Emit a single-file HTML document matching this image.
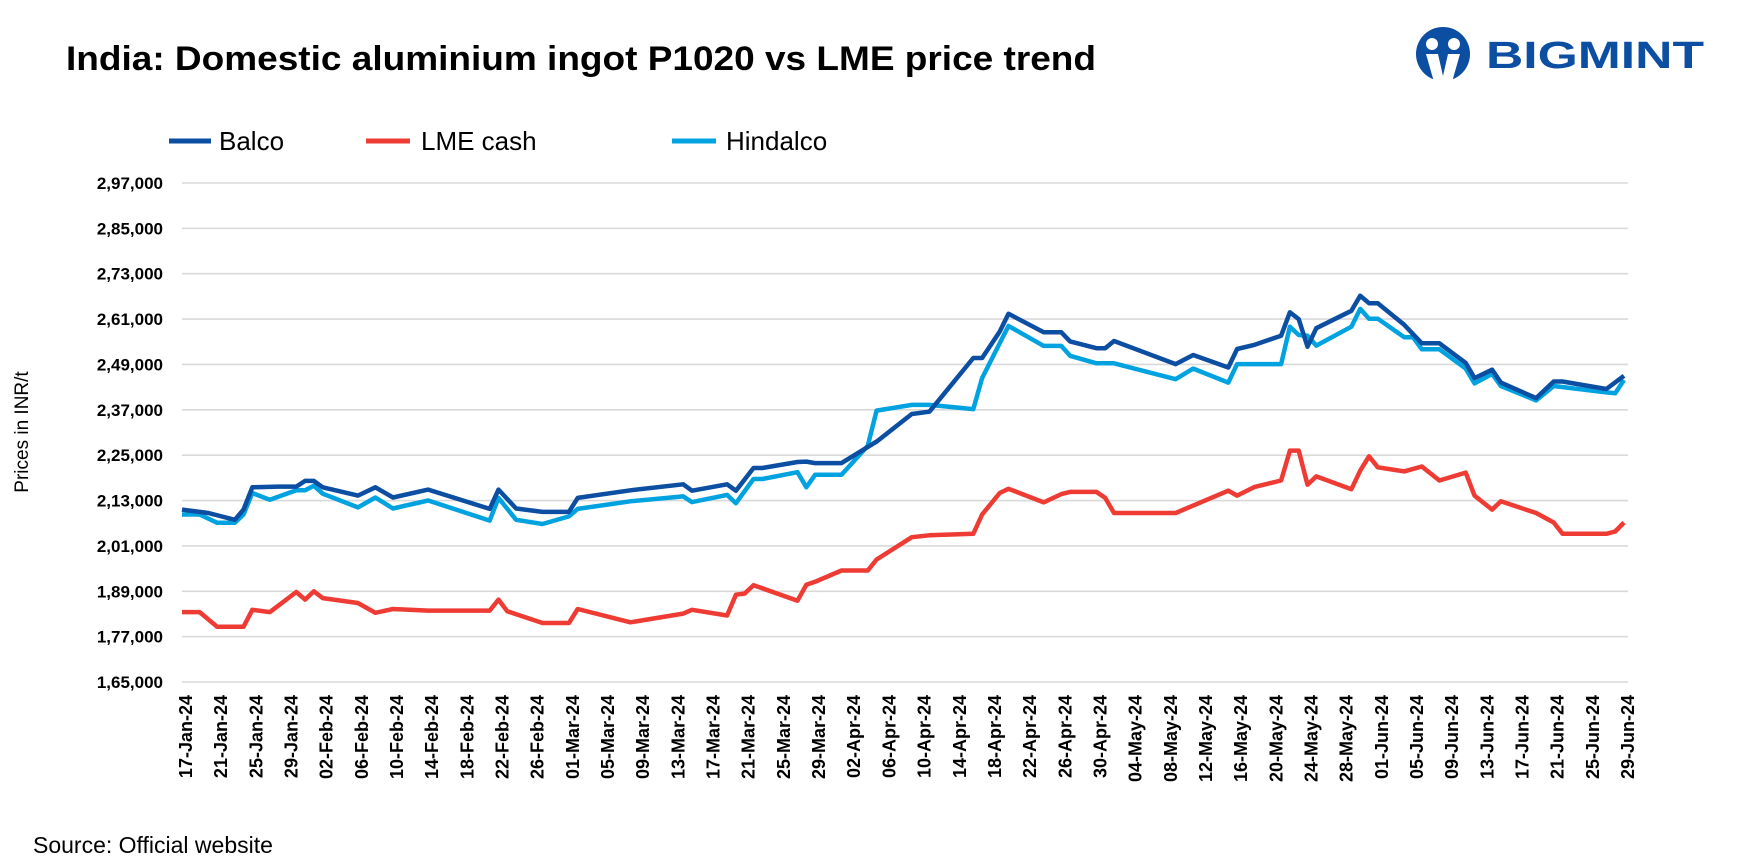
<!DOCTYPE html>
<html>
<head>
<meta charset="utf-8">
<style>
  html,body{margin:0;padding:0;background:#fff;}
  body{width:1739px;height:863px;overflow:hidden;font-family:"Liberation Sans",sans-serif;}
  svg{display:block;}
</style>
</head>
<body>
<svg id="chart" width="1739" height="863" viewBox="0 0 1739 863" xmlns="http://www.w3.org/2000/svg">
  <text x="66" y="70" font-family="Liberation Sans, sans-serif" font-weight="bold" font-size="34" fill="#000" textLength="1030" lengthAdjust="spacingAndGlyphs">India: Domestic aluminium ingot P1020 vs LME price trend</text>
  <g>
    <circle cx="1443" cy="54" r="27" fill="#0b4ea2"/>
    <circle cx="1432" cy="44" r="6" fill="#fff"/>
    <circle cx="1454" cy="44" r="6" fill="#fff"/>
    <path d="M1426 54 L1438 54 L1443 76 L1448 54 L1460 54 L1452 82 L1434 82 Z" fill="#fff"/>
    <text x="1486" y="68" font-family="Liberation Sans, sans-serif" font-weight="bold" font-size="38" fill="#0b4ea2" textLength="218" lengthAdjust="spacingAndGlyphs">BIGMINT</text>
  </g>
  <g>
    <g>
      <line x1="169" y1="141" x2="211" y2="141" stroke="#0b4ea2" stroke-width="5"/>
      <text x="219" y="150" font-size="26" fill="#000">Balco</text>
    </g>
    <g>
      <line x1="366" y1="141" x2="410" y2="141" stroke="#ee3b33" stroke-width="5"/>
      <text x="421" y="150" font-size="26" fill="#000">LME cash</text>
    </g>
    <g>
      <line x1="672" y1="141" x2="716" y2="141" stroke="#00a3e0" stroke-width="5"/>
      <text x="726" y="150" font-size="26" fill="#000">Hindalco</text>
    </g>
  </g>
  <text transform="translate(28,432) rotate(-90)" text-anchor="middle" font-size="19" fill="#000">Prices in INR/t</text>
  <g id="grid"></g>
  <g id="yticks"></g>
  <g id="xticks"></g>
  <g id="series"></g>
  <text x="33" y="853" font-size="23" fill="#000">Source: Official website</text>
</svg>
<script>
// y-axis ticks (INR/t)
const yTicks = [165000,177000,189000,201000,213000,225000,237000,249000,261000,273000,285000,297000];
const yTickLabels = ["1,65,000","1,77,000","1,89,000","2,01,000","2,13,000","2,25,000","2,37,000","2,49,000","2,61,000","2,73,000","2,85,000","2,97,000"];
// x-axis: day offsets from 17-Jan-24
const xTickDays = [0,4,8,12,16,20,24,28,32,36,40,44,48,52,56,60,64,68,72,76,80,84,88,92,96,100,104,108,112,116,120,124,128,132,136,140,144,148,152,156,160,164];
const xTickLabels = ["17-Jan-24","21-Jan-24","25-Jan-24","29-Jan-24","02-Feb-24","06-Feb-24","10-Feb-24","14-Feb-24","18-Feb-24","22-Feb-24","26-Feb-24","01-Mar-24","05-Mar-24","09-Mar-24","13-Mar-24","17-Mar-24","21-Mar-24","25-Mar-24","29-Mar-24","02-Apr-24","06-Apr-24","10-Apr-24","14-Apr-24","18-Apr-24","22-Apr-24","26-Apr-24","30-Apr-24","04-May-24","08-May-24","12-May-24","16-May-24","20-May-24","24-May-24","28-May-24","01-Jun-24","05-Jun-24","09-Jun-24","13-Jun-24","17-Jun-24","21-Jun-24","25-Jun-24","29-Jun-24"];

// Balco (day offset, thousand INR/t)
const balcoDays = [0,3,6,7,8,11,13,14,15,16,20,22,24,28,35,36,38,41,44,45,51,57,58,62,63,65,66,70,71,72,75,79,83,85,90,91,93,94,98,100,101,104,105,106,113,115,119,120,122,125,126,127,128,129,133,134,135,136,139,141,143,146,147,149,150,154,156,157,162,164];
const balcoVals = [210.6,209.7,207.9,210.6,216.5,216.7,216.7,218.2,218.2,216.5,214.3,216.5,213.8,215.9,210.8,215.9,210.9,210.0,210.0,213.7,215.7,217.3,215.6,217.3,215.6,221.6,221.6,223.2,223.3,222.9,222.9,228.6,235.9,236.5,250.7,250.7,257.7,262.4,257.5,257.5,255.1,253.3,253.3,255.2,249.1,251.5,248.2,253.1,254.2,256.6,262.8,261.0,253.7,258.6,263.2,267.2,265.2,265.2,259.5,254.6,254.6,249.4,245.4,247.6,244.2,240.1,244.5,244.5,242.5,246.0];

// LME cash
const lmeDays = [0,2,4,7,8,10,13,14,15,16,20,22,24,28,35,36,37,41,44,45,51,57,58,62,63,64,65,70,71,72,75,78,79,83,85,90,91,93,94,98,100,101,104,105,106,113,119,120,122,125,126,127,128,129,133,134,135,136,139,141,143,146,147,149,150,154,156,157,162,163,164];
const lmeVals = [183.5,183.5,179.6,179.6,184.1,183.5,188.8,186.8,189.0,187.2,185.9,183.3,184.3,183.9,183.9,186.8,183.7,180.6,180.6,184.3,180.8,183.1,184.1,182.6,188.1,188.4,190.6,186.5,190.7,191.5,194.5,194.5,197.4,203.3,203.8,204.2,209.3,215.0,216.1,212.5,214.7,215.3,215.3,213.7,209.7,209.7,215.6,214.3,216.6,218.3,226.2,226.2,217.2,219.4,216.0,220.9,224.7,221.8,220.7,222.0,218.3,220.4,214.3,210.6,212.8,209.7,207.2,204.2,204.2,204.8,207.2];

// Hindalco
const hindDays = [0,2,4,6,7,8,10,13,14,15,16,20,22,24,28,35,36,38,41,44,45,51,57,58,62,63,65,66,70,71,72,75,78,79,83,85,90,91,94,98,100,101,104,106,113,115,119,120,125,126,127,128,129,133,134,135,136,139,140,141,143,146,147,149,150,154,156,162,163,164];
const hindVals = [209.3,209.3,207.1,207.1,209.3,215.0,213.2,215.7,215.7,216.9,214.8,211.2,213.8,210.9,213.0,207.7,213.7,207.9,206.8,208.8,210.8,212.8,214.1,212.6,214.5,212.3,218.7,218.7,220.5,216.5,219.8,219.8,227.5,236.8,238.3,238.3,237.2,245.4,259.2,253.9,253.9,251.3,249.3,249.3,245.1,247.9,244.2,249.1,249.1,259.0,256.8,256.6,254.0,259.0,263.7,261.1,261.1,256.2,256.2,253.0,253.0,247.9,244.0,246.5,243.3,239.5,243.3,241.6,241.4,244.9];

const NS = "http://www.w3.org/2000/svg";
const plotLeft = 182, plotRight = 1628, yTop = 183, yBottom = 682;
const yMin = 165000, yMax = 297000, dayMax = 164;
function xScale(d){ return 182 + d * (1624 - 182) / dayMax; }
function yScale(v){ return yBottom - (v - yMin) / (yMax - yMin) * (yBottom - yTop); }

const grid = document.getElementById('grid');
const yt = document.getElementById('yticks');
yTicks.forEach((t, i) => {
  const y = yScale(t);
  const ln = document.createElementNS(NS, 'line');
  ln.setAttribute('x1', plotLeft); ln.setAttribute('x2', plotRight);
  ln.setAttribute('y1', y); ln.setAttribute('y2', y);
  ln.setAttribute('stroke', '#d9d9d9'); ln.setAttribute('stroke-width', '1.6');
  
  
  grid.appendChild(ln);
  const tx = document.createElementNS(NS, 'text');
  tx.setAttribute('x', 163); tx.setAttribute('y', y + 6);
  tx.setAttribute('text-anchor', 'end');
  tx.setAttribute('font-size', '17'); tx.setAttribute('font-weight', 'bold');
  tx.textContent = yTickLabels[i];
  
  
  yt.appendChild(tx);
});

const xt = document.getElementById('xticks');
xTickDays.forEach((d, i) => {
  const x = xScale(d) + 4;
  const tx = document.createElementNS(NS, 'text');
  tx.setAttribute('transform', 'translate(' + (x + 6) + ',695) rotate(-90)');
  tx.setAttribute('text-anchor', 'end');
  tx.setAttribute('font-size', '18'); tx.setAttribute('font-weight', 'bold');
  tx.textContent = xTickLabels[i];
  
  
  xt.appendChild(tx);
});

const seriesG = document.getElementById('series');
function drawLine(days, vals, color, name){
  const pts = days.map((d, i) => xScale(d).toFixed(1) + ',' + yScale(vals[i] * 1000).toFixed(1)).join(' ');
  const pl = document.createElementNS(NS, 'polyline');
  pl.setAttribute('points', pts);
  pl.setAttribute('fill', 'none');
  pl.setAttribute('stroke', color);
  pl.setAttribute('stroke-width', '4.5');
  pl.setAttribute('stroke-linejoin', 'round');
  
  
  seriesG.appendChild(pl);
}
drawLine(lmeDays, lmeVals, '#ee3b33', 'lme-cash-line');
drawLine(hindDays, hindVals, '#00a3e0', 'hindalco-line');
drawLine(balcoDays, balcoVals, '#0b4ea2', 'balco-line');
</script>
</body>
</html>
